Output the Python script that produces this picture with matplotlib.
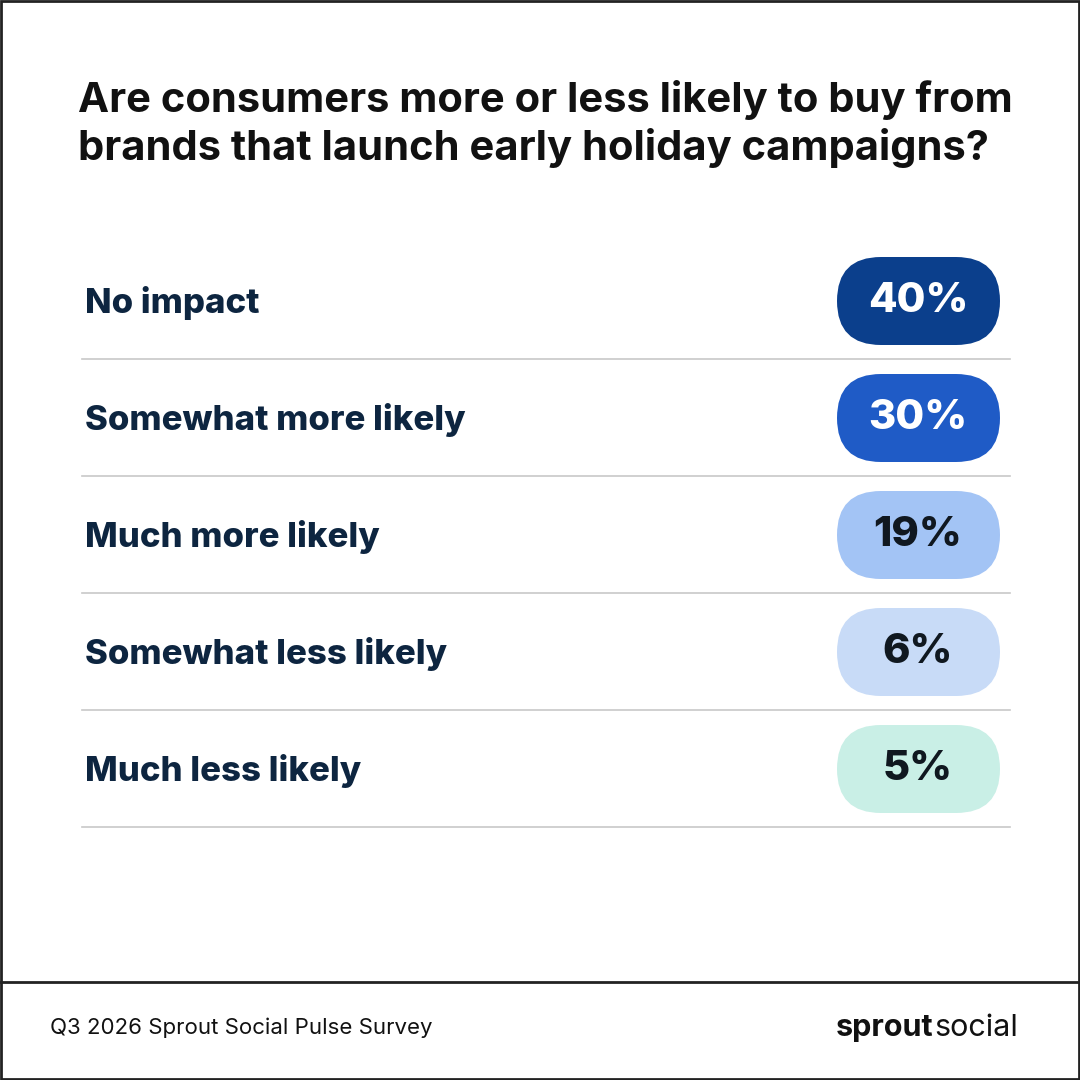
import matplotlib
matplotlib.use("Agg")
import matplotlib.pyplot as plt
from matplotlib.patches import FancyBboxPatch, Rectangle

categories = ["No impact", "Somewhat more likely", "Much more likely", "Somewhat less likely", "Much less likely"]
values = [40, 30, 19, 6, 5]
pill_colors = ["#0B3F8C", "#1F5BC6", "#A3C4F5", "#C8DBF7", "#C9EFE6"]
text_colors = ["white", "white", "#101820", "#101820", "#101820"]

plt.rcParams['font.family'] = ['Inter', 'DejaVu Sans']
fig = plt.figure(figsize=(10.8, 10.8), dpi=100)
ax = fig.add_axes([0, 0, 1, 1])
ax.set_xlim(0, 1080); ax.set_ylim(1080, 0); ax.axis("off")

ax.add_patch(Rectangle((1, 1), 1078, 1078, fill=False, ec="#222222", lw=2))
ax.plot([0, 1080], [982, 982], color="#222222", lw=2)

ax.text(78, 124, "Are consumers more or less likely to buy from\nbrands that launch early holiday campaigns?",
        fontsize=30, fontweight="bold", color="#111111", va="center", ha="left", linespacing=1.22)

y0, step = 301, 117
for i, (c, v) in enumerate(zip(categories, values)):
    y = y0 + i * step
    ax.text(85, y + 2, c, fontsize=25, fontweight="heavy", color="#0D2540", va="center", ha="left")
    ax.add_patch(FancyBboxPatch((837, y - 44), 163, 88,
                                boxstyle="round,pad=0,rounding_size=44", fc=pill_colors[i], ec="none"))
    ax.text(918, y, f"{v}%", fontsize=30, fontweight="heavy", color=text_colors[i], va="center", ha="center")
    ax.plot([82, 1010], [y + 58, y + 58], color="#C8C8C8", lw=1.2)

ax.text(50, 1028, "Q3 2026 Sprout Social Pulse Survey", fontsize=16, color="#111111", va="center", ha="left")
t = ax.text(836, 1028, "sprout", fontsize=22, fontweight="bold", color="#111111", va="center", ha="left")
fig.canvas.draw()
bb = t.get_window_extent()
ax.text(bb.x1 + 1, 1028, "social", fontsize=22, color="#111111", va="center", ha="left")

fig.savefig("out.png", dpi=100)
